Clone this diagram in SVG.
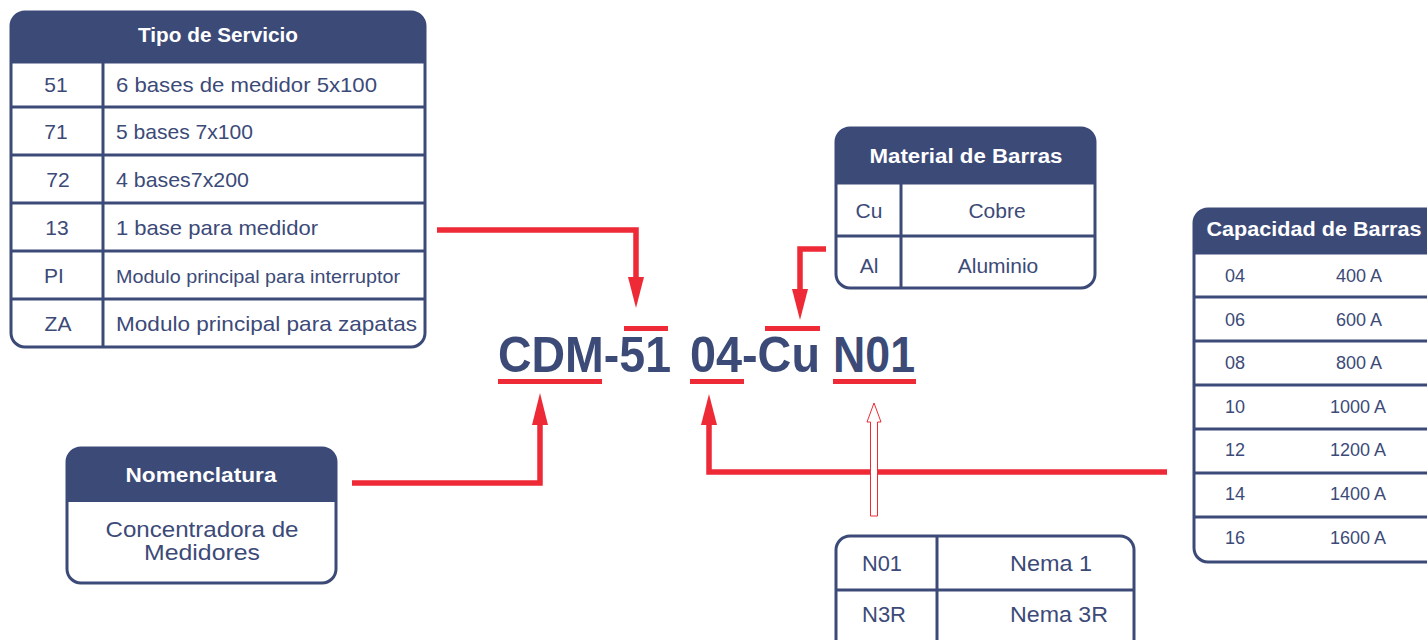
<svg xmlns="http://www.w3.org/2000/svg" width="1427" height="640" viewBox="0 0 1427 640">
<style>
.box{fill:#fff;stroke:#3c4a78;stroke-width:3}
.hdr{fill:#3c4a78}
.ln{stroke:#3c4a78;stroke-width:3;fill:none}
.ht{font-family:"Liberation Sans",Arial,sans-serif;font-weight:bold;fill:#fff;font-size:20px;text-anchor:middle}
.t{font-family:"Liberation Sans",Arial,sans-serif;fill:#3c4a78;font-size:21px}
.s{font-size:18px}
.m{text-anchor:middle}
.code{font-family:"Liberation Sans",Arial,sans-serif;font-weight:bold;fill:#3c4a78;font-size:50px}
.red{stroke:#ed2a36;stroke-width:5.5;fill:none}
.rf{fill:#ed2a36}
</style>
<rect width="1427" height="640" fill="#fff"/>

<g id="tipo-servicio">
<rect class="box" x="11" y="12" width="414" height="335" rx="14"/>
<path class="hdr" d="M11,62 V26 A14,14 0 0 1 25,12 H411 A14,14 0 0 1 425,26 V62 Z"/>
<path class="ln" d="M11,62 H425 M11,107 H425 M11,155 H425 M11,203 H425 M11,251 H425 M11,299 H425 M103,62 V347"/>
<text class="ht" x="218" y="42" textLength="160" lengthAdjust="spacingAndGlyphs">Tipo de Servicio</text>
<text class="t m" x="56" y="92">51</text>
<text class="t m" x="56" y="139">71</text>
<text class="t m" x="58" y="187">72</text>
<text class="t m" x="57" y="235">13</text>
<text class="t m" x="54" y="283">PI</text>
<text class="t m" x="58" y="331">ZA</text>
<text class="t" x="116" y="92" textLength="261" lengthAdjust="spacingAndGlyphs">6 bases de medidor 5x100</text>
<text class="t" x="116" y="139" textLength="137" lengthAdjust="spacingAndGlyphs">5 bases 7x100</text>
<text class="t" x="116" y="187" textLength="133" lengthAdjust="spacingAndGlyphs">4 bases7x200</text>
<text class="t" x="116" y="235" textLength="202" lengthAdjust="spacingAndGlyphs">1 base para medidor</text>
<text class="t" x="116" y="283" textLength="284" lengthAdjust="spacingAndGlyphs" style="font-size:19px">Modulo principal para interruptor</text>
<text class="t" x="116" y="331" textLength="301" lengthAdjust="spacingAndGlyphs">Modulo principal para zapatas</text>
</g>

<g id="material-barras">
<rect class="box" x="836" y="128" width="259" height="160" rx="14"/>
<path class="hdr" d="M836,183 V142 A14,14 0 0 1 850,128 H1081 A14,14 0 0 1 1095,142 V183 Z"/>
<path class="ln" d="M836,183 H1095 M836,236 H1095 M901,183 V288"/>
<text class="ht" x="966" y="163" textLength="193" lengthAdjust="spacingAndGlyphs">Material de Barras</text>
<text class="t m" x="869" y="218">Cu</text>
<text class="t m" x="997" y="218">Cobre</text>
<text class="t m" x="869" y="273">Al</text>
<text class="t m" x="998" y="273">Aluminio</text>
</g>

<g id="capacidad-barras">
<rect class="box" x="1194" y="209" width="260" height="353" rx="14"/>
<path class="hdr" d="M1194,253 V223 A14,14 0 0 1 1208,209 H1454 V253 Z"/>
<path class="ln" d="M1194,253 H1454 M1194,297 H1454 M1194,341 H1454 M1194,385 H1454 M1194,429 H1454 M1194,473 H1454 M1194,517 H1454"/>
<text class="ht" x="1314" y="236" textLength="215" lengthAdjust="spacingAndGlyphs">Capacidad de Barras</text>
<text class="t s" x="1225" y="282">04</text>
<text class="t s" x="1225" y="326">06</text>
<text class="t s" x="1225" y="369">08</text>
<text class="t s" x="1225" y="413">10</text>
<text class="t s" x="1225" y="456">12</text>
<text class="t s" x="1225" y="500">14</text>
<text class="t s" x="1225" y="544">16</text>
<text class="t s m" x="1359" y="282">400 A</text>
<text class="t s m" x="1359" y="326">600 A</text>
<text class="t s m" x="1359" y="369">800 A</text>
<text class="t s m" x="1358" y="413">1000 A</text>
<text class="t s m" x="1358" y="456">1200 A</text>
<text class="t s m" x="1358" y="500">1400 A</text>
<text class="t s m" x="1358" y="544">1600 A</text>
</g>

<g id="nomenclatura">
<rect class="box" x="67" y="448" width="269" height="135" rx="14"/>
<path class="hdr" d="M67,502 V462 A14,14 0 0 1 81,448 H322 A14,14 0 0 1 336,462 V502 Z"/>
<text class="ht" x="201" y="482" textLength="151" lengthAdjust="spacingAndGlyphs">Nomenclatura</text>
<text class="t m" x="202" y="537" textLength="193" lengthAdjust="spacingAndGlyphs" style="font-size:22px">Concentradora de</text>
<text class="t m" x="202" y="560" textLength="116" lengthAdjust="spacingAndGlyphs" style="font-size:22px">Medidores</text>
</g>

<g id="nema">
<rect class="box" x="836" y="536" width="298" height="130" rx="14"/>
<path class="ln" d="M836,590 H1134 M937,536 V640"/>
<text class="t" x="862" y="571" textLength="40" lengthAdjust="spacingAndGlyphs" style="font-size:22px">N01</text>
<text class="t" x="862" y="622" textLength="44" lengthAdjust="spacingAndGlyphs" style="font-size:22px">N3R</text>
<text class="t" x="1010" y="571" textLength="82" lengthAdjust="spacingAndGlyphs" style="font-size:22px">Nema 1</text>
<text class="t" x="1010" y="622" textLength="98" lengthAdjust="spacingAndGlyphs" style="font-size:22px">Nema 3R</text>
</g>

<g id="code">
<text class="code" x="498" y="372" textLength="173" lengthAdjust="spacingAndGlyphs">CDM-51</text>
<text class="code" x="690" y="372" textLength="130" lengthAdjust="spacingAndGlyphs">04-Cu</text>
<text class="code" x="833" y="372" textLength="82" lengthAdjust="spacingAndGlyphs">N01</text>
<rect class="rf" x="498" y="379" width="104" height="5"/>
<rect class="rf" x="624" y="326" width="44" height="5"/>
<rect class="rf" x="690" y="379" width="54" height="5"/>
<rect class="rf" x="765" y="326" width="55" height="5"/>
<rect class="rf" x="833" y="379" width="83" height="5"/>
</g>

<g id="connectors">
<path class="red" d="M437,230 H636 V279"/>
<polygon class="rf" points="628,277 644,277 636,308"/>
<path class="red" d="M826,249 H800 V291"/>
<polygon class="rf" points="792,289 808,289 800,320"/>
<path class="red" d="M352,483 H540 V423"/>
<polygon class="rf" points="532,425 548,425 540,393"/>
<path class="red" d="M1167,472 H709 V423"/>
<polygon class="rf" points="701,425 717,425 709,394"/>
<polygon points="874,403 881,422 877.5,422 877.5,516 870.5,516 870.5,422 867,422" fill="#fff" stroke="#ed2a36" stroke-width="1"/>
</g>
</svg>
